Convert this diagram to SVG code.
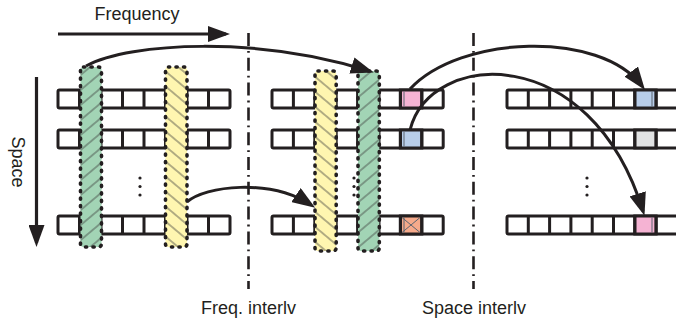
<svg xmlns="http://www.w3.org/2000/svg" width="676" height="327" viewBox="0 0 676 327">
  <style>
    .row { fill: #ffffff; stroke: #231f20; stroke-width: 3; stroke-linejoin: round; }
    .cell { stroke: #231f20; stroke-width: 3; }
    .div { fill: none; stroke: #231f20; stroke-width: 3; }
    .green { fill: #a2d4b5; }
    .yellow { fill: #fff6b0; }
    .edge { fill: none; stroke: #231f20; stroke-width: 3.6; stroke-linecap: round; stroke-dasharray: 1.2 6.3; }
    .conn { fill: none; stroke: #231f20; stroke-width: 3; }
    .axis { fill: none; stroke: #231f20; stroke-width: 3.2; }
    .split { fill: none; stroke: #231f20; stroke-width: 2.6; stroke-dasharray: 13 5 1.8 5; }
    .thin { fill: none; stroke: #5b6470; stroke-width: 1; }
    .dot { fill: #231f20; }
    .label { font-family: "Liberation Sans", Arial, sans-serif; font-size: 18px; fill: #231f20; }
  </style>
  <defs>
    <!-- hatch lines only; the strip colour is a separate fill underneath -->
    <pattern id="hatch-up" patternUnits="userSpaceOnUse" width="20" height="11.5" patternTransform="rotate(-40)">
      <line x1="-1" y1="5.75" x2="21" y2="5.75" stroke="#3c3c3c" stroke-width="0.8"/>
    </pattern>
    <pattern id="hatch-down" patternUnits="userSpaceOnUse" width="20" height="11.5" patternTransform="rotate(40)">
      <line x1="-1" y1="5.75" x2="21" y2="5.75" stroke="#3c3c3c" stroke-width="0.8"/>
    </pattern>
    <marker id="head" markerUnits="userSpaceOnUse" markerWidth="23" markerHeight="17" refX="18" refY="8.5" orient="auto">
      <path d="M0,0 L23,8.5 L0,17 Z" fill="#231f20"/>
    </marker>
    <marker id="axis-head" markerUnits="userSpaceOnUse" markerWidth="22" markerHeight="16" refX="18" refY="8" orient="auto">
      <path d="M0,0 L22,8 L0,16 Z" fill="#231f20"/>
    </marker>
  </defs>

  <!-- axes -->
  <g id="axis-frequency">
    <path class="axis" d="M58 34 H226" marker-end="url(#axis-head)"/>
    <text class="label" x="137" y="20" text-anchor="middle">Frequency</text>
  </g>
  <g id="axis-space">
    <path class="axis" d="M36.5 77 V243" marker-end="url(#axis-head)"/>
    <text class="label" transform="translate(11.5 162) rotate(90)" text-anchor="middle">Space</text>
  </g>

  <!-- stage separators -->
  <g id="separator-freq">
    <path class="split" d="M248.5 33 V289"/>
    <text class="label" x="248.5" y="314" text-anchor="middle">Freq. interlv</text>
  </g>
  <g id="separator-space">
    <path class="split" d="M473.5 33 V289"/>
    <text class="label" x="474" y="314" text-anchor="middle">Space interlv</text>
  </g>

  <!-- input grid -->
  <g id="grid-input">
    <rect class="row" x="58" y="90" width="172" height="18" rx="1.5"/>
    <rect class="row" x="58" y="130" width="172" height="18" rx="1.5"/>
    <rect class="row" x="58" y="216" width="172" height="18" rx="1.5"/>
    <path class="div" d="M79.5 90v18M101 90v18M122.5 90v18M144 90v18M165.5 90v18M187 90v18M208.5 90v18
                         M79.5 130v18M101 130v18M122.5 130v18M144 130v18M165.5 130v18M187 130v18M208.5 130v18
                         M79.5 216v18M101 216v18M122.5 216v18M144 216v18M165.5 216v18M187 216v18M208.5 216v18"/>
    <circle class="dot" cx="140" cy="178" r="1.6"/>
    <circle class="dot" cx="140" cy="186.5" r="1.6"/>
    <circle class="dot" cx="140" cy="195" r="1.6"/>
  </g>
  <g id="strip-input-green">
    <rect class="green" x="80.5" y="67" width="21" height="180" rx="3"/>
    <rect x="80.5" y="67" width="21" height="180" rx="3" fill="url(#hatch-up)"/>
    <rect class="edge" x="80.5" y="67" width="21" height="180" rx="3"/>
  </g>
  <g id="strip-input-yellow">
    <rect class="yellow" x="165.5" y="67" width="21.5" height="180" rx="3"/>
    <rect x="165.5" y="67" width="21.5" height="180" rx="3" fill="url(#hatch-down)"/>
    <rect class="edge" x="165.5" y="67" width="21.5" height="180" rx="3"/>
  </g>

  <!-- grid after frequency interleaving -->
  <g id="grid-freq">
    <rect class="row" x="272" y="90" width="171.2" height="18" rx="1.5"/>
    <rect class="row" x="272" y="130" width="171.2" height="18" rx="1.5"/>
    <rect class="row" x="272" y="216" width="171.2" height="18" rx="1.5"/>
    <rect class="cell" x="400.4" y="90" width="21.4" height="18" fill="#f5b3d3"/>
    <rect class="cell" x="400.4" y="130" width="21.4" height="18" fill="#b8cde9"/>
    <rect class="cell" x="400.4" y="216" width="21.4" height="18" fill="#f6aa8b"/>
    <path class="thin" d="M404 91.5v15M404 131.5v15M404 217.5v15M402 217.5L420 232.5M420 217.5L402 232.5"/>
    <path class="div" d="M293.4 90v18M314.8 90v18M336.2 90v18M357.6 90v18M379 90v18M400.4 90v18M421.8 90v18
                         M293.4 130v18M314.8 130v18M336.2 130v18M357.6 130v18M379 130v18M400.4 130v18M421.8 130v18
                         M293.4 216v18M314.8 216v18M336.2 216v18M357.6 216v18M379 216v18M400.4 216v18M421.8 216v18"/>
    <circle class="dot" cx="354" cy="178" r="1.6"/>
    <circle class="dot" cx="354" cy="186.5" r="1.6"/>
    <circle class="dot" cx="354" cy="195" r="1.6"/>
  </g>
  <g id="strip-freq-yellow">
    <rect class="yellow" x="315" y="71" width="21.2" height="180" rx="3"/>
    <rect x="315" y="71" width="21.2" height="180" rx="3" fill="url(#hatch-down)"/>
    <rect class="edge" x="315" y="71" width="21.2" height="180" rx="3"/>
  </g>
  <g id="strip-freq-green">
    <rect class="green" x="358" y="71" width="21.3" height="180" rx="3"/>
    <rect x="358" y="71" width="21.3" height="180" rx="3" fill="url(#hatch-up)"/>
    <rect class="edge" x="358" y="71" width="21.3" height="180" rx="3"/>
  </g>

  <!-- grid after space interleaving -->
  <g id="grid-space">
    <rect class="row" x="507" y="90" width="172" height="18" rx="1.5"/>
    <rect class="row" x="507" y="130" width="172" height="18" rx="1.5"/>
    <rect class="row" x="507" y="216" width="172" height="18" rx="1.5"/>
    <rect class="cell" x="634.8" y="90" width="21.3" height="18" fill="#b8cde9"/>
    <rect class="cell" x="634.8" y="130" width="21.3" height="18" fill="#e1e2e3"/>
    <rect class="cell" x="634.8" y="216" width="21.3" height="18" fill="#f5b3d3"/>
    <path class="thin" d="M652 91.5v15M652 217.5v15"/>
    <path class="div" d="M528.3 90v18M549.6 90v18M570.9 90v18M592.2 90v18M613.5 90v18M634.8 90v18M656.1 90v18
                         M528.3 130v18M549.6 130v18M570.9 130v18M592.2 130v18M613.5 130v18M634.8 130v18M656.1 130v18
                         M528.3 216v18M549.6 216v18M570.9 216v18M592.2 216v18M613.5 216v18M634.8 216v18M656.1 216v18"/>
    <circle class="dot" cx="587" cy="178" r="1.6"/>
    <circle class="dot" cx="587" cy="186.5" r="1.6"/>
    <circle class="dot" cx="587" cy="195" r="1.6"/>
  </g>

  <!-- connectors -->
  <g id="connectors">
    <path class="conn" d="M86 66 C130 42, 260 36, 369 71" marker-end="url(#head)"/>
    <path class="conn" d="M187 202 C205 186, 270 178, 311 205" marker-end="url(#head)"/>
    <path class="conn" d="M410 89 C460 35, 600 30, 642 86" marker-end="url(#head)"/>
    <path class="conn" d="M410 130 C430 50, 590 40, 643 211" marker-end="url(#head)"/>
  </g>
</svg>
